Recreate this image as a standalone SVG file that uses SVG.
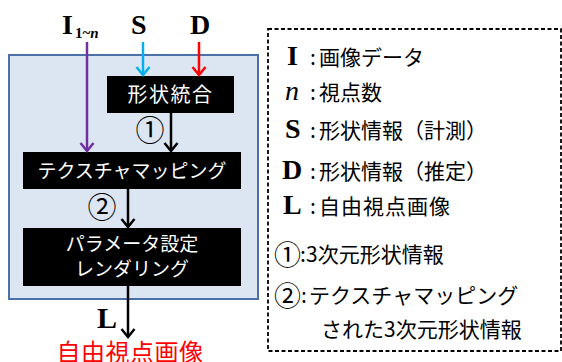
<svg xmlns="http://www.w3.org/2000/svg" width="562" height="362" viewBox="0 0 562 362">
<style>
.jp{font-family:"Noto Sans CJK JP","Noto Sans",sans-serif}
.box{fill:#000}
.bt{font-family:"Noto Sans CJK JP","Noto Sans",sans-serif;fill:#fff;font-size:19px;text-anchor:middle}
.sym{font-family:"Liberation Serif","Times New Roman",serif;font-weight:bold;font-size:28px;fill:#000}
.it{font-family:"Liberation Serif","Times New Roman",serif;font-style:italic;font-size:28px;fill:#000}
.lg{font-family:"Noto Sans CJK JP","Noto Sans",sans-serif;font-size:21px;fill:#000}
.num{font-family:"Noto Sans CJK JP","Noto Sans",sans-serif;font-size:29px;fill:#000;text-anchor:middle}
.c{fill:none;stroke-width:2.5}
</style>
<defs>
<marker id="ak" viewBox="-10 -8 12 16" refX="0" refY="0" markerWidth="12" markerHeight="16" markerUnits="userSpaceOnUse" orient="auto"><path d="M-8,-6.5 L0,0 L-8,6.5" fill="none" stroke="#000" stroke-width="2.5"/></marker>
<marker id="ab" viewBox="-10 -8 12 16" refX="0" refY="0" markerWidth="12" markerHeight="16" markerUnits="userSpaceOnUse" orient="auto"><path d="M-8,-6.5 L0,0 L-8,6.5" fill="none" stroke="#00B0F0" stroke-width="2.5"/></marker>
<marker id="ar" viewBox="-10 -8 12 16" refX="0" refY="0" markerWidth="12" markerHeight="16" markerUnits="userSpaceOnUse" orient="auto"><path d="M-8,-6.5 L0,0 L-8,6.5" fill="none" stroke="#FF0000" stroke-width="2.5"/></marker>
<marker id="ap" viewBox="-10 -8 12 16" refX="0" refY="0" markerWidth="12" markerHeight="16" markerUnits="userSpaceOnUse" orient="auto"><path d="M-8,-6.5 L0,0 L-8,6.5" fill="none" stroke="#7030A0" stroke-width="2.5"/></marker>
</defs>

<g id="panel"><rect x="9" y="55" width="249" height="244" fill="#DCE6F2" stroke="#4A72A8" stroke-width="2"/></g>

<g id="inputs">
<text class="sym" x="62" y="34">I</text>
<text x="75" y="38" font-family="Liberation Serif, serif" font-weight="bold" font-size="15">1~<tspan font-style="italic">n</tspan></text>
<text class="sym" x="131" y="34">S</text>
<text class="sym" x="190" y="34">D</text>
</g>

<g id="shape-integration"><rect class="box" x="107" y="76" width="127" height="37"/><text class="bt" x="170.5" y="102" style="font-size:20px" letter-spacing="1.5">形状統合</text></g>
<g id="texture-mapping"><rect class="box" x="23" y="152" width="218" height="37"/><text class="bt" x="132" y="178">テクスチャマッピング</text></g>
<g id="rendering"><rect class="box" x="23" y="228" width="218" height="58"/><text class="bt" x="132" y="251">パラメータ設定</text><text class="bt" x="132" y="276">レンダリング</text></g>

<g id="connectors">
<line class="c" x1="87" y1="42" x2="87" y2="151" stroke="#7030A0" marker-end="url(#ap)"/>
<line class="c" x1="143" y1="42" x2="143" y2="75" stroke="#00B0F0" marker-end="url(#ab)"/>
<line class="c" x1="199" y1="42" x2="199" y2="75" stroke="#FF0000" marker-end="url(#ar)"/>
<line class="c" x1="171" y1="113" x2="171" y2="151" stroke="#000" marker-end="url(#ak)"/>
<line class="c" x1="128" y1="189" x2="128" y2="227" stroke="#000" marker-end="url(#ak)"/>
<line class="c" x1="128" y1="286" x2="128" y2="337" stroke="#000" marker-end="url(#ak)"/>
<text class="num" x="150" y="141">①</text>
<text class="num" x="102" y="218">②</text>
<text class="sym" x="97" y="328" style="font-size:30px">L</text>
</g>

<g id="output"><text class="jp" x="130" y="361" font-size="24" fill="#FF0000" text-anchor="middle" letter-spacing="0.5">自由視点画像</text></g>

<g id="legend">
<rect x="268" y="29" width="293" height="322" fill="none" stroke="#000" stroke-width="1.8" stroke-dasharray="4,2.5"/>
<text class="sym" x="287" y="65">I</text><text class="lg" x="310" y="65">:</text><text class="lg" x="319" y="65">画像データ</text>
<text class="it" x="285" y="100">n</text><text class="lg" x="310" y="100">:</text><text class="lg" x="319" y="100">視点数</text>
<text class="sym" x="285" y="138">S</text><text class="lg" x="310" y="138">:</text><text class="lg" x="319" y="138">形状情報（計測）</text>
<text class="sym" x="282" y="179">D</text><text class="lg" x="310" y="179">:</text><text class="lg" x="319" y="179">形状情報（推定）</text>
<text class="sym" x="283" y="214">L</text><text class="lg" x="310" y="214">:</text><text class="lg" x="319" y="214" letter-spacing="1">自由視点画像</text>
<text class="lg" x="274" y="265" style="font-size:27px">①</text><text class="lg" x="300" y="262">:</text><text class="lg" x="306" y="262">3次元形状情報</text>
<text class="lg" x="274" y="306" style="font-size:27px">②</text><text class="lg" x="301" y="303">:</text><text class="lg" x="309" y="303">テクスチャマッピング</text>
<text class="lg" x="321" y="337">された3次元形状情報</text>
</g>
</svg>
